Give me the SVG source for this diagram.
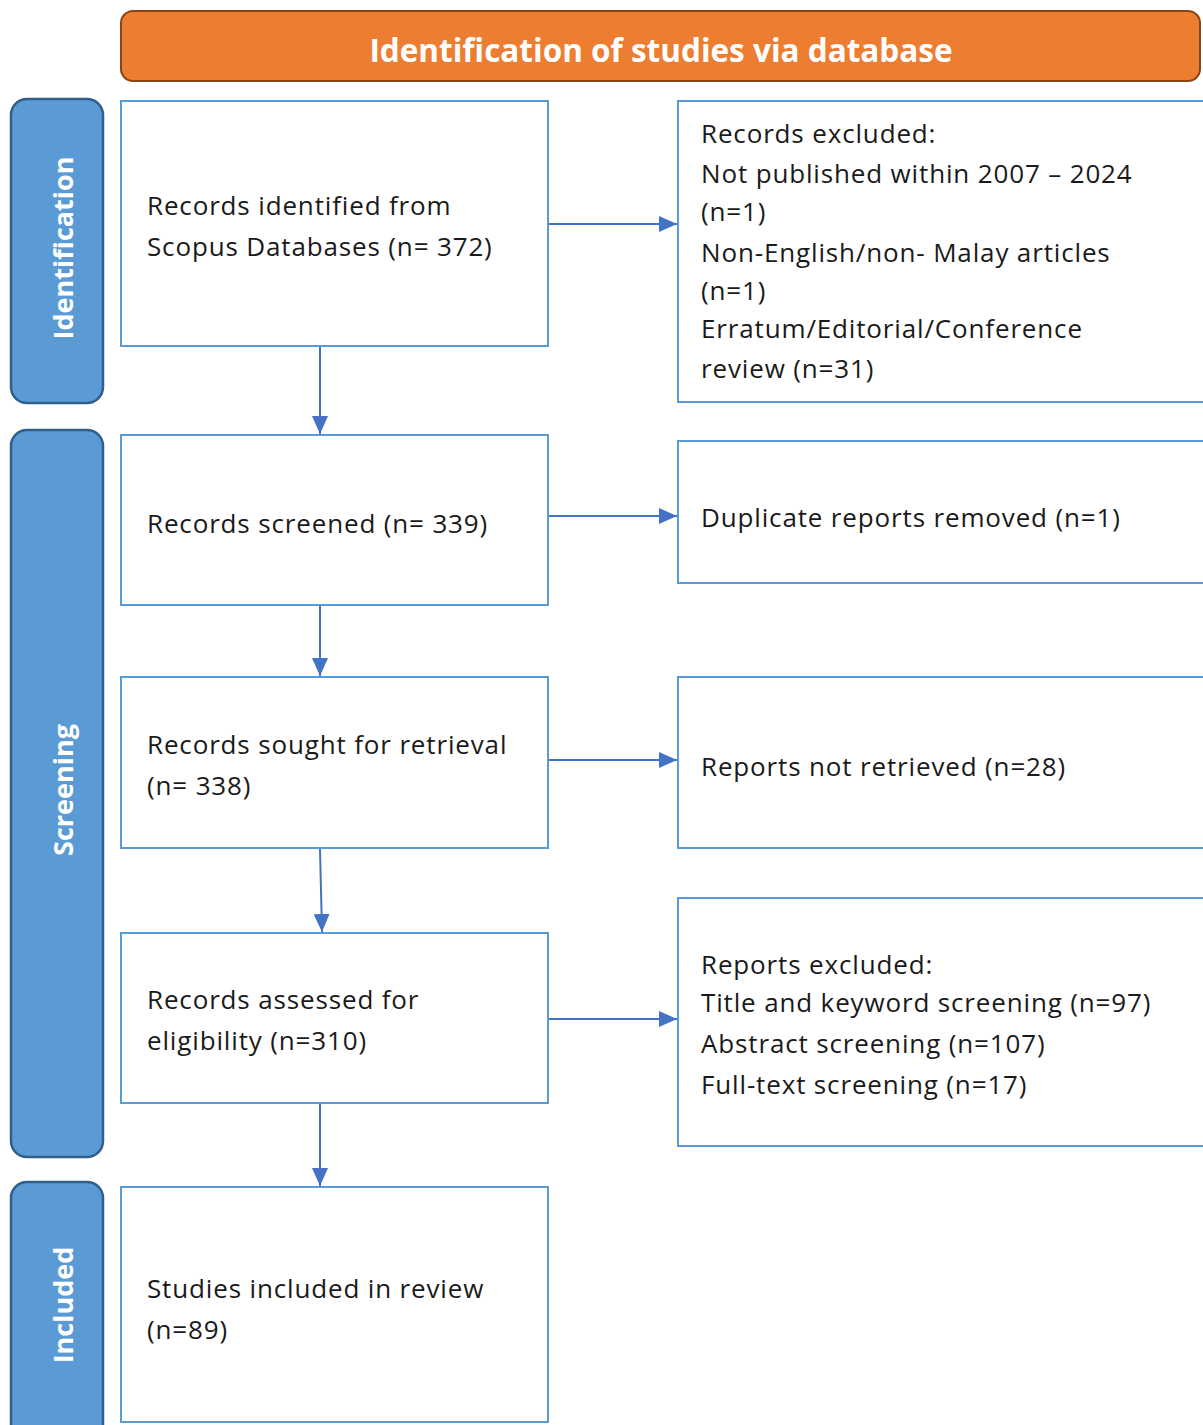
<svg xmlns="http://www.w3.org/2000/svg" width="1203" height="1425" viewBox="0 0 1203 1425">
<defs>
<style>
.box{fill:#fff;stroke:#5b9bd5;stroke-width:2}
.side{fill:#5b9bd5;stroke:#2f5f8a;stroke-width:2.5}
.t{font-family:"Open Sans","Liberation Sans",sans-serif;font-size:26px;letter-spacing:0.85px;fill:#1a1a1a}
.s{font-family:"Open Sans","Liberation Sans",sans-serif;font-size:27px;font-weight:bold;fill:#fff;text-anchor:middle}
.c{stroke:#4472c4;stroke-width:2;fill:none;marker-end:url(#ah)}
</style>
<marker id="ah" viewBox="0 0 18 16" refX="18" refY="8" markerWidth="18" markerHeight="16" markerUnits="userSpaceOnUse" orient="auto">
<path d="M0,0 L18,8 L0,16 z" fill="#4472c4"/>
</marker>
</defs>
<rect width="1203" height="1425" fill="#fff"/>
<g id="header">
<rect x="121" y="11" width="1079" height="70" rx="12" fill="#ed7d31" stroke="#8a4514" stroke-width="2"/>
<text x="661" y="62" class="s" style="font-size:31.5px">Identification of studies via database</text>
</g>
<g id="phase-identification">
<rect x="11" y="99" width="92" height="304" rx="16" class="side"/>
<text class="s" transform="translate(73,248) rotate(-90)">Identification</text>
</g>
<g id="phase-screening">
<rect x="11" y="430" width="92" height="727" rx="16" class="side"/>
<text class="s" transform="translate(73,790) rotate(-90)">Screening</text>
</g>
<g id="phase-included">
<rect x="11" y="1182" width="92" height="260" rx="16" class="side"/>
<text class="s" transform="translate(73,1305) rotate(-90)">Included</text>
</g>
<g id="n1">
<rect x="121" y="101" width="427" height="245" class="box"/>
<text class="t" x="147" y="215">Records identified from</text>
<text class="t" x="147" y="256">Scopus Databases (n= 372)</text>
</g>
<g id="r1">
<rect x="678" y="101" width="535" height="301" class="box"/>
<text class="t" x="701" y="143">Records excluded:</text>
<text class="t" x="701" y="183">Not published within 2007 – 2024</text>
<text class="t" x="701" y="221">(n=1)</text>
<text class="t" x="701" y="262">Non-English/non- Malay articles</text>
<text class="t" x="701" y="300">(n=1)</text>
<text class="t" x="701" y="338">Erratum/Editorial/Conference</text>
<text class="t" x="701" y="378">review (n=31)</text>
</g>
<g id="n2">
<rect x="121" y="435" width="427" height="170" class="box"/>
<text class="t" x="147" y="533">Records screened (n= 339)</text>
</g>
<g id="r2">
<rect x="678" y="441" width="535" height="142" class="box"/>
<text class="t" x="701" y="527">Duplicate reports removed (n=1)</text>
</g>
<g id="n3">
<rect x="121" y="677" width="427" height="171" class="box"/>
<text class="t" x="147" y="754">Records sought for retrieval</text>
<text class="t" x="147" y="795">(n= 338)</text>
</g>
<g id="r3">
<rect x="678" y="677" width="535" height="171" class="box"/>
<text class="t" x="701" y="776">Reports not retrieved (n=28)</text>
</g>
<g id="n4">
<rect x="121" y="933" width="427" height="170" class="box"/>
<text class="t" x="147" y="1009">Records assessed for</text>
<text class="t" x="147" y="1050">eligibility (n=310)</text>
</g>
<g id="r4">
<rect x="678" y="898" width="535" height="248" class="box"/>
<text class="t" x="701" y="974">Reports excluded:</text>
<text class="t" x="701" y="1012">Title and keyword screening (n=97)</text>
<text class="t" x="701" y="1053">Abstract screening (n=107)</text>
<text class="t" x="701" y="1094">Full-text screening (n=17)</text>
</g>
<g id="n5">
<rect x="121" y="1187" width="427" height="235" class="box"/>
<text class="t" x="147" y="1298">Studies included in review</text>
<text class="t" x="147" y="1339">(n=89)</text>
</g>
<g id="connectors">
<line class="c" x1="320" y1="347" x2="320" y2="434"/>
<line class="c" x1="320" y1="606" x2="320" y2="676"/>
<line class="c" x1="320" y1="849" x2="322" y2="932"/>
<line class="c" x1="320" y1="1104" x2="320" y2="1186"/>
<line class="c" x1="549" y1="224" x2="677" y2="224"/>
<line class="c" x1="549" y1="516" x2="677" y2="516"/>
<line class="c" x1="549" y1="760" x2="677" y2="760"/>
<line class="c" x1="549" y1="1019" x2="677" y2="1019"/>
</g>
</svg>
